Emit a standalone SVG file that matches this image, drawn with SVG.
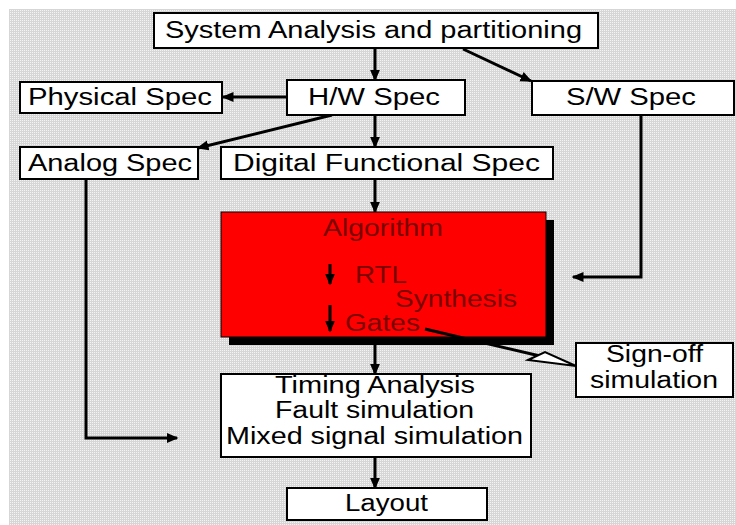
<svg xmlns="http://www.w3.org/2000/svg" width="736" height="525" viewBox="0 0 736 525">
<style>
.box{fill:#fff;stroke:#000;stroke-width:2}
.t{font-family:"Liberation Sans",Arial,sans-serif;font-size:23px;fill:#000}
.r{font-family:"Liberation Sans",Arial,sans-serif;font-size:23px;fill:#7a0000}
.c{fill:none;stroke:#000;stroke-width:3}
</style>
<defs>
<marker id="ah" markerWidth="4" markerHeight="4" refX="3.5" refY="2" orient="auto" markerUnits="strokeWidth">
<path d="M0,0.3 L4,2 L0,3.7 Z" fill="#000"/>
</marker>
<pattern id="bg" width="2" height="2" patternUnits="userSpaceOnUse">
<rect width="2" height="2" fill="#d6d6d6"/>
<rect width="1" height="1" fill="#f4f4f4"/>
</pattern>
</defs>
<rect width="736" height="525" fill="#fff"/>
<rect x="9" y="9" width="727" height="516" fill="url(#bg)"/>

<g id="connectors">
<line class="c" x1="375" y1="48" x2="375" y2="80" marker-end="url(#ah)"/>
<line class="c" x1="463" y1="49" x2="531" y2="81" marker-end="url(#ah)"/>
<line class="c" x1="287" y1="97" x2="223" y2="97" marker-end="url(#ah)"/>
<line class="c" x1="332" y1="115" x2="198" y2="148" marker-end="url(#ah)"/>
<line class="c" x1="375" y1="115" x2="375" y2="147" marker-end="url(#ah)"/>
<line class="c" x1="375" y1="179" x2="375" y2="212" marker-end="url(#ah)"/>
<line class="c" x1="375" y1="345" x2="375" y2="374" marker-end="url(#ah)"/>
<line class="c" x1="375" y1="457" x2="375" y2="488" marker-end="url(#ah)"/>
<polyline class="c" points="641,115 641,277 573,277" marker-end="url(#ah)"/>
<polyline class="c" points="86,179 86,438 177,438" marker-end="url(#ah)"/>
</g>

<g id="system"><rect class="box" x="154" y="13" width="444" height="35"/><text class="t" x="165" y="38" textLength="417" lengthAdjust="spacingAndGlyphs">System Analysis and partitioning</text></g>
<g id="physical"><rect class="box" x="20" y="82" width="202" height="31"/><text class="t" x="28" y="105" textLength="184" lengthAdjust="spacingAndGlyphs">Physical Spec</text></g>
<g id="hw"><rect class="box" x="287" y="80" width="178" height="35"/><text class="t" x="308" y="105" textLength="132" lengthAdjust="spacingAndGlyphs">H/W Spec</text></g>
<g id="sw"><rect class="box" x="532" y="81" width="202" height="34"/><text class="t" x="566" y="105" textLength="130" lengthAdjust="spacingAndGlyphs">S/W Spec</text></g>
<g id="analog"><rect class="box" x="20" y="147" width="178" height="32"/><text class="t" x="28" y="171" textLength="164" lengthAdjust="spacingAndGlyphs">Analog Spec</text></g>
<g id="digital"><rect class="box" x="221" y="147" width="332" height="32"/><text class="t" x="233" y="171" textLength="307" lengthAdjust="spacingAndGlyphs">Digital Functional  Spec</text></g>

<g id="synthesis">
<rect x="229" y="220" width="325" height="125" fill="#000"/>
<rect x="221" y="212" width="325" height="125" fill="#ff0000" stroke="#000" stroke-width="1"/>
<text class="r" x="323" y="236" textLength="120" lengthAdjust="spacingAndGlyphs">Algorithm</text>
<text class="r" x="355" y="283" textLength="52" lengthAdjust="spacingAndGlyphs">RTL</text>
<text class="r" x="395" y="307" textLength="122" lengthAdjust="spacingAndGlyphs">Synthesis</text>
<text class="r" x="345" y="331" textLength="75" lengthAdjust="spacingAndGlyphs">Gates</text>
<line class="c" x1="330" y1="264" x2="330" y2="284" marker-end="url(#ah)"/>
<line class="c" x1="330" y1="305" x2="330" y2="331" marker-end="url(#ah)"/>
</g>

<g id="gates-link">
<line class="c" x1="425" y1="329" x2="540" y2="356"/>
<polygon points="528,360 545,352 576,366" fill="#fff" stroke="#000" stroke-width="2"/>
</g>

<g id="signoff"><rect class="box" x="576" y="343" width="157" height="54"/><text class="t" x="606" y="362" textLength="97" lengthAdjust="spacingAndGlyphs">Sign-off</text><text class="t" x="590" y="388" textLength="128" lengthAdjust="spacingAndGlyphs">simulation</text></g>
<g id="timing"><rect class="box" x="221" y="374" width="310" height="83"/>
<text class="t" x="275" y="393" textLength="200" lengthAdjust="spacingAndGlyphs">Timing Analysis</text>
<text class="t" x="275" y="418" textLength="199" lengthAdjust="spacingAndGlyphs">Fault simulation</text>
<text class="t" x="226" y="444" textLength="297" lengthAdjust="spacingAndGlyphs">Mixed signal simulation</text></g>
<g id="layout"><rect class="box" x="287" y="488" width="200" height="32"/><text class="t" x="345" y="511" textLength="83" lengthAdjust="spacingAndGlyphs">Layout</text></g>
</svg>
